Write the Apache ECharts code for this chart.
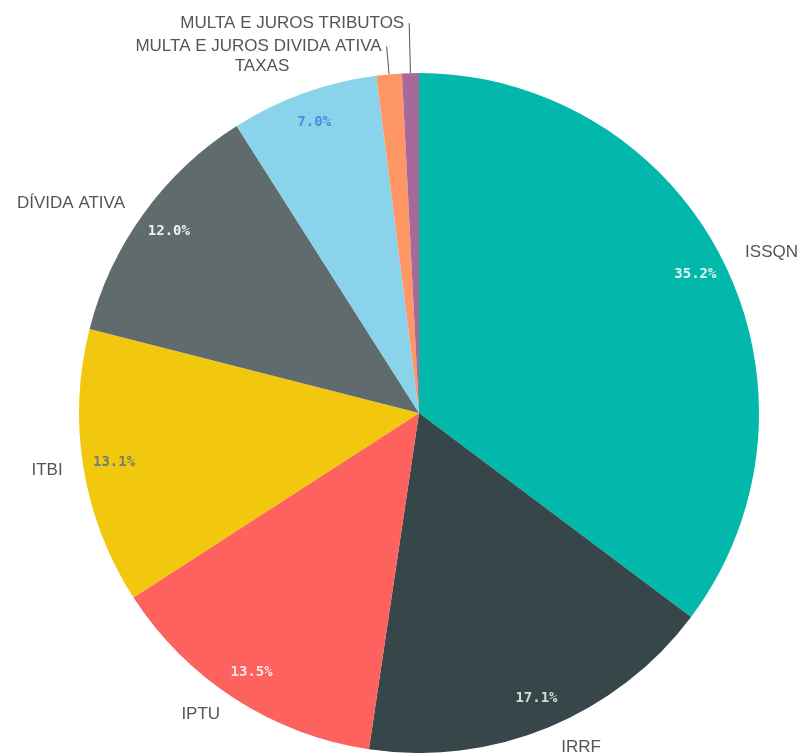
<!DOCTYPE html>
<html>
<head>
<meta charset="utf-8">
<script src="https://cdn.jsdelivr.net/npm/echarts@6/dist/echarts.min.js"></script>
<style>html,body{margin:0;padding:0;background:#fff;}#c{width:805px;height:753px;}</style>
</head>
<body>
<div id="c"></div>
<script>
// Data
const categories = ['ISSQN', 'IRRF', 'IPTU', 'ITBI', 'DÍVIDA ATIVA', 'TAXAS', 'MULTA E JUROS DIVIDA ATIVA', 'MULTA E JUROS TRIBUTOS'];
const values = [35.2, 17.1, 13.5, 13.1, 12.0, 7.0, 1.2, 0.8];
const percentLabels = ['35.2%', '17.1%', '13.5%', '13.1%', '12.0%', '7.0%', '', ''];

// Styles (kept apart from data)
const colors = ['#01B8AA', '#374649', '#FD625E', '#F2C80F', '#5F6B6D', '#8AD4EB', '#FE9666', '#A66999'];
const pctColors = ['#e3f6f3', '#d6dadb', '#ffe6e4', '#6f7d73', '#eef0f0', '#3f93de', '#fff', '#fff'];
const lineLens = [19, 21, 18, 16, 17, 28, 28, 50];
const showLines = [false, false, false, false, false, false, true, true];

const center = [419, 413];
const R = 340;

const outerData = categories.map((n, i) => ({
  name: n,
  value: values[i],
  itemStyle: { color: colors[i] },
  labelLine: { show: showLines[i], length: lineLens[i], length2: 0 }
}));

const innerData = categories.map((n, i) => ({
  name: n,
  value: values[i],
  label: { color: pctColors[i] }
}));

const chart = echarts.init(document.getElementById('c'), null, { renderer: 'canvas' });
chart.setOption({
  animation: false,
  backgroundColor: '#ffffff',
  series: [
    {
      type: 'pie',
      center: center,
      radius: [0, R],
      startAngle: 90,
      clockwise: true,
      avoidLabelOverlap: false,
      silent: true,
      itemStyle: { borderWidth: 0 },
      label: {
        show: true,
        position: 'outside',
        fontFamily: 'Liberation Sans',
        fontSize: 17,
        color: '#555555',
        distanceToLabelLine: 5
      },
      labelLine: {
        lineStyle: { color: '#555', width: 1 }
      },
      data: outerData
    },
    {
      type: 'pie',
      center: center,
      radius: [R * 0.8, R],
      startAngle: 90,
      clockwise: true,
      avoidLabelOverlap: false,
      silent: true,
      itemStyle: { color: 'rgba(0,0,0,0)', borderWidth: 0 },
      label: {
        show: true,
        position: 'inside',
        fontFamily: 'DejaVu Sans Mono',
        fontWeight: 'bold',
        fontSize: 14,
        formatter: function (p) { return percentLabels[p.dataIndex]; }
      },
      labelLine: { show: false },
      data: innerData
    }
  ]
});
</script>
</body>
</html>
